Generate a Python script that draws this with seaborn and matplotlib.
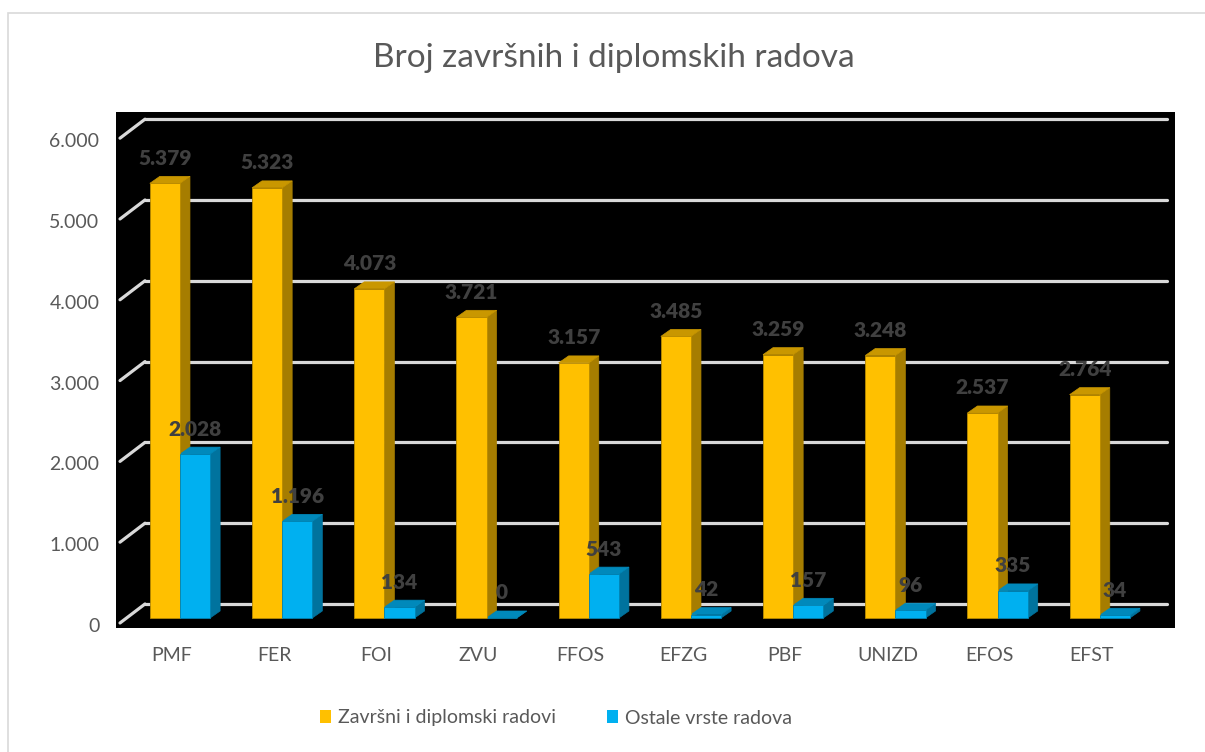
import numpy as np
import pandas as pd
import matplotlib
matplotlib.use("Agg")
import matplotlib.pyplot as plt
import seaborn as sns
from matplotlib.patches import Polygon, Rectangle, Patch
from matplotlib.transforms import ScaledTranslation

# ---------------- data ----------------
categories = ["PMF", "FER", "FOI", "ZVU", "FFOS", "EFZG", "PBF", "UNIZD", "EFOS", "EFST"]
zavrsni = [5379, 5323, 4073, 3721, 3157, 3485, 3259, 3248, 2537, 2764]
ostale = [2028, 1196, 134, 0, 543, 42, 157, 96, 335, 34]
series_names = ["Završni i diplomski radovi", "Ostale vrste radova"]
y_ticks = [0, 1000, 2000, 3000, 4000, 5000, 6000]
title = "Broj završnih i diplomskih radova"

df = pd.DataFrame({
    "Fakultet": categories * 2,
    "Broj": zavrsni + ostale,
    "Vrsta": [series_names[0]] * len(categories) + [series_names[1]] * len(categories),
})

# ---------------- style ----------------
front_cols = ["#FFC000", "#00B0F0"]
side_cols = ["#A67D00", "#00739E"]
top_cols = ["#C99700", "#0089BB"]
edge_cols = ["#B88A00", "#0083B3"]
grid_col = "#D9D9D9"
text_col = "#595959"
label_col = "#404040"

plt.rcParams["font.family"] = ["Lato", "DejaVu Sans"]

W, H = 1205, 752
fig = plt.figure(figsize=(W / 100, H / 100), dpi=100)
fig.patch.set_facecolor("white")

# outer chart border (partially outside the image)
fig.patches.append(Rectangle((8 / W, -0.05), 1.2, 1 - 13 / H + 0.05, transform=fig.transFigure,
                             fill=False, edgecolor="#D9D9D9", linewidth=1.2))

ax_l, ax_r, ax_t, ax_b = 116, 1175, 112, 628
ax = fig.add_axes([ax_l / W, 1 - ax_b / H, (ax_r - ax_l) / W, (ax_b - ax_t) / H])
ax.set_facecolor("black")

sns.barplot(data=df, x="Fakultet", y="Broj", hue="Vrsta", palette=front_cols,
            width=0.59, saturation=1, legend=False, ax=ax, zorder=5)

# axis scaling (pixels -> data)
ax.set_xlim(-0.626, 9.736)
ax.set_ylim(-124, 6262)
px_x = (ax.get_xlim()[1] - ax.get_xlim()[0]) / (ax_r - ax_l)
px_y = (ax.get_ylim()[1] - ax.get_ylim()[0]) / (ax_b - ax_t)
x0l = ax.get_xlim()[0]
x1r = ax.get_xlim()[1]

# perspective gridlines
for v in y_ticks:
    ax.plot([x0l + 29 * px_x, x1r - 8 * px_x], [v + 14 * px_y] * 2, color=grid_col,
            lw=2.3, solid_capstyle="round", zorder=1)
    ax.plot([x0l + 4 * px_x, x0l + 29 * px_x], [v - 5 * px_y, v + 14 * px_y], color=grid_col,
            lw=2.3, solid_capstyle="round", zorder=1)

# 3D faces
ddx, ddy = 10 * px_x, 7 * px_y
z = 2.0
for i, cont in enumerate(ax.containers):
    for bar in cont:
        bar.set_edgecolor(edge_cols[i])
        bar.set_linewidth(0.6)
for j in range(len(categories)):
    for i, cont in enumerate(ax.containers):
        bar = cont[j]
        x0 = bar.get_x()
        x1 = x0 + bar.get_width()
        h = bar.get_height()
        side = Polygon([(x1, 0), (x1 + ddx, ddy), (x1 + ddx, h + ddy), (x1, h)],
                       closed=True, facecolor=side_cols[i], edgecolor=side_cols[i], lw=0.5, zorder=z)
        top = Polygon([(x0, h), (x0 + ddx, h + ddy), (x1 + ddx, h + ddy), (x1, h)],
                      closed=True, facecolor=top_cols[i], edgecolor=top_cols[i], lw=0.5, zorder=z + 0.01)
        ax.add_patch(side)
        ax.add_patch(top)
        z += 0.02
        ax.annotate(f"{int(h):,}".replace(",", "."), xy=(x0 + bar.get_width() / 2, h),
                    xytext=(0, 18), textcoords="offset points", ha="center", va="center",
                    fontsize=15, fontweight="heavy", color=label_col, zorder=10)

# axes decorations
for s in ax.spines.values():
    s.set_visible(False)
ax.set_xlabel("")
ax.set_ylabel("")
ax.set_yticks(y_ticks)
ax.set_yticklabels([f"{v:,}".replace(",", ".") for v in y_ticks])
ax.tick_params(axis="both", length=0, labelsize=14, labelcolor=text_col)
ax.tick_params(axis="y", pad=12)
ax.tick_params(axis="x", pad=14)
ax.grid(False)

for lab in ax.get_yticklabels():
    lab.set_transform(lab.get_transform() + ScaledTranslation(0, -7 / 100, fig.dpi_scale_trans))
for lab in ax.get_xticklabels():
    lab.set_transform(lab.get_transform() + ScaledTranslation(-8 / 100, 0, fig.dpi_scale_trans))

# title
fig.text(614 / W, 1 - 67 / H, title, ha="center", va="baseline", fontsize=24, color=text_col)

# legend
handles = [Patch(facecolor=front_cols[k], edgecolor="none", label=series_names[k]) for k in range(2)]
fig.legend(handles=handles, loc="center", bbox_to_anchor=(556 / W, 1 - 718 / H), ncol=2,
           frameon=False, fontsize=14, labelcolor=text_col, handlelength=0.6, handleheight=0.6,
           handletextpad=0.35, columnspacing=2.6)

fig.savefig("out.png", dpi=100, facecolor="white")
